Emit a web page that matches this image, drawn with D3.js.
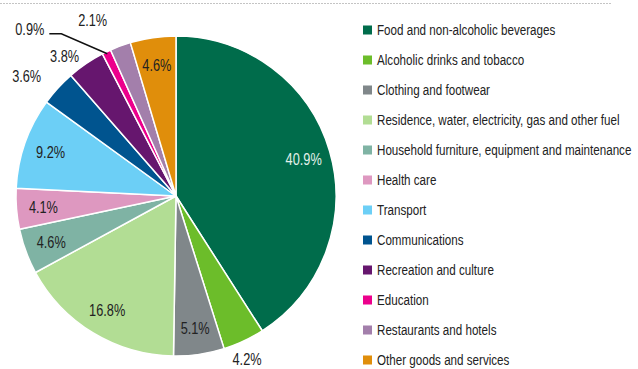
<!DOCTYPE html>
<html>
<head>
<meta charset="utf-8">
<script src="https://cdn.jsdelivr.net/npm/d3@7"></script>
<style>
  body { margin: 0; background: #fff; }
  svg text { font-family: "Liberation Sans", Arial, sans-serif; }
</style>
</head>
<body>
<div id="chart"></div>
<script>
// Data
const categories = [
    "Food and non-alcoholic beverages",
    "Alcoholic drinks and tobacco",
    "Clothing and footwear",
    "Residence, water, electricity, gas and other fuel",
    "Household furniture, equipment and maintenance",
    "Health care",
    "Transport",
    "Communications",
    "Recreation and culture",
    "Education",
    "Restaurants and hotels",
    "Other goods and services"
];
const shares = [40.9, 4.2, 5.1, 16.8, 4.6, 4.1, 9.2, 3.6, 3.8, 0.9, 2.1, 4.6];
const colors = ["#006c4b", "#6cbd2a", "#80878a", "#b2dd94", "#7fb3a4", "#de98c0",
    "#6ccff6", "#00548f", "#66166e", "#ec008c", "#a37fab", "#e08e0b"];
// where the label goes: in = inside slice, out = outside, lead = with leader line
const labelPlace = ["in", "out", "in", "in", "in", "in", "in", "out", "out", "lead", "out", "in"];

const width = 638;
const height = 369;
const cx = 176, cy = 196, radius = 160;
const condense = 0.75; // squeeze text horizontally to mimic the condensed face

// small hand nudges for the outside labels (layout only)
const outNudge = {
    "Alcoholic drinks and tobacco": [-6, -2],
    "Communications": [-15, 3],
    "Recreation and culture": [-9, 10],
    "Restaurants and hotels": [-20, -6]
};

const svg = d3.select("#chart")
    .append("svg")
    .attr("width", width)
    .attr("height", height);

// dotted rule at the top
svg.append("line")
    .attr("x1", 0).attr("x2", 612)
    .attr("y1", 3.5).attr("y2", 3.5)
    .attr("stroke", "#c4c4c4")
    .attr("stroke-width", 1)
    .attr("stroke-dasharray", "2,1");

const data = categories.map((c, i) => ({ name: c, value: shares[i], color: colors[i], place: labelPlace[i] }));

const pie = d3.pie().sort(null).value(d => d.value);
const arc = d3.arc().innerRadius(0).outerRadius(radius);
const arcs = pie(data);

const g = svg.append("g").attr("transform", `translate(${cx},${cy})`);

g.selectAll("path")
    .data(arcs)
    .enter()
    .append("path")
    .attr("d", arc)
    .attr("fill", d => d.data.color)
    .attr("stroke", "#fff")
    .attr("stroke-width", 1.5)
    .attr("stroke-linejoin", "round");

const fmt = v => v.toFixed(1) + "%";
const mid = d => (d.startAngle + d.endAngle) / 2;
const at = (x, y) => `translate(${x},${y}) scale(${condense},1)`;

// labels inside slices
const inArc = d3.arc().innerRadius(133).outerRadius(133);
g.selectAll("text.in")
    .data(arcs.filter(d => d.data.place === "in"))
    .enter()
    .append("text")
    .attr("class", "in")
    .attr("transform", d => at(...inArc.centroid(d)))
    .attr("text-anchor", "middle")
    .attr("dominant-baseline", "central")
    .attr("font-size", 17)
    .attr("fill", d => d.index === 0 ? "#e3f1ea" : "#222")
    .text(d => fmt(d.data.value));

// labels outside
const outR = 182;
g.selectAll("text.out")
    .data(arcs.filter(d => d.data.place === "out"))
    .enter()
    .append("text")
    .attr("class", "out")
    .attr("transform", d => {
        const n = outNudge[d.data.name] || [0, 0];
        return at(Math.sin(mid(d)) * outR + n[0], -Math.cos(mid(d)) * outR + n[1]);
    })
    .attr("text-anchor", "middle")
    .attr("dominant-baseline", "central")
    .attr("font-size", 17)
    .attr("fill", "#222")
    .text(d => fmt(d.data.value));

// label with leader line
arcs.filter(d => d.data.place === "lead").forEach(d => {
    const a = mid(d);
    const p0 = [Math.sin(a) * (radius - 2), -Math.cos(a) * (radius - 2)];
    const p1 = [p0[0] - 46, p0[1] - 20];
    const p2 = [p1[0] - 12, p1[1]];
    g.append("polyline")
        .attr("points", [p0, p1, p2].map(p => p.join(",")).join(" "))
        .attr("fill", "none")
        .attr("stroke", "#111")
        .attr("stroke-width", 1.5);
    g.append("text")
        .attr("transform", at(p2[0] - 5, p2[1] - 5))
        .attr("text-anchor", "end")
        .attr("dominant-baseline", "central")
        .attr("font-size", 17)
        .attr("fill", "#222")
        .text(fmt(d.data.value));
});

// legend
const legend = svg.append("g").attr("transform", "translate(363,30)");
const rows = legend.selectAll("g")
    .data(data)
    .enter()
    .append("g")
    .attr("transform", (d, i) => `translate(0,${i * 30})`);

rows.append("rect")
    .attr("x", 0).attr("y", -4.5)
    .attr("width", 9).attr("height", 9)
    .attr("fill", d => d.color);

rows.append("text")
    .attr("transform", at(14, 0))
    .attr("dominant-baseline", "central")
    .attr("font-size", 15.5)
    .attr("fill", "#222")
    .text(d => d.name);
</script>
</body>
</html>
